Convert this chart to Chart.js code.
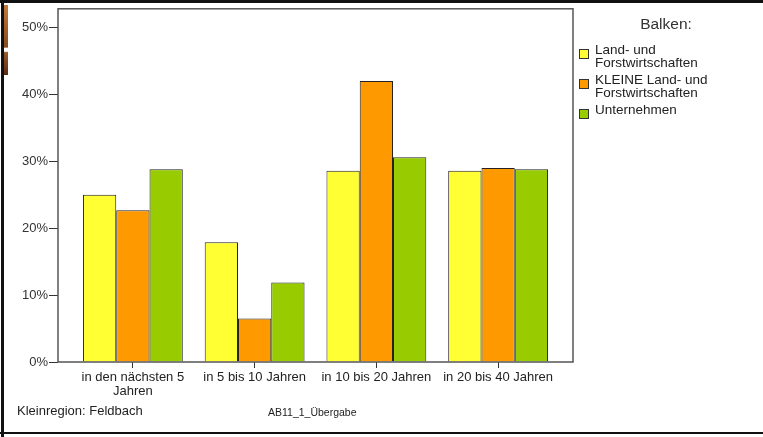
<!DOCTYPE html>
<html lang="de">
<head>
  <meta charset="UTF-8">
  <title>Balken – Kleinregion Feldbach</title>
  <script src="https://cdn.jsdelivr.net/npm/chart.js"></script>
  <style>
    html, body { margin: 0; padding: 0; background: #fff; }
    .wrap { position: relative; width: 763px; height: 437px; }
    .strip { position: absolute; left: 4px; top: 5px; width: 4px; height: 70px;
             background: linear-gradient(#c07a3a, #8a4a1c 60%, #fff 62%, #fff 66%, #9a5a2a 68%, #5a2a10); }
  </style>
</head>
<body>
<div class="wrap">
  <canvas id="chart" width="763" height="437"></canvas>
  <div class="strip"></div>
</div>

<script>
// categories (x axis), two-line labels as in the original
const categories = [
  ["in den nächsten 5", "Jahren"],
  ["in 5 bis 10 Jahren"],
  ["in 10 bis 20 Jahren"],
  ["in 20 bis 40 Jahren"]
];
const seriesNames = [
  ["Land- und", "Forstwirtschaften"],
  ["KLEINE Land- und", "Forstwirtschaften"],
  ["Unternehmen"]
];
const landForst = [25.0, 17.9, 28.6, 28.6];
const kleineLandForst = [22.7, 6.5, 42.0, 29.0];
const unternehmen = [28.8, 11.9, 30.6, 28.8];
const yTicks = [0, 10, 20, 30, 40, 50];
const colors = ["#ffff33", "#ff9900", "#99cc00"];

const legendTitle = "Balken:";
const footLeft = "Kleinregion: Feldbach";
const footMid = "AB11_1_Übergabe";

const series = [landForst, kleineLandForst, unternehmen];
const FONT = "Arial, 'Liberation Sans', sans-serif";

// frame, legend, footer and outer border
const decor = {
  id: 'decor',
  afterDraw(chart) {
    const ctx = chart.ctx;
    const a = chart.chartArea;
    ctx.save();
    // plot frame
    ctx.strokeStyle = "#555";
    ctx.lineWidth = 1.5;
    ctx.strokeRect(a.left, a.top, a.right - a.left, a.bottom - a.top);

    // legend
    ctx.fillStyle = "#333";
    ctx.font = "15.5px " + FONT;
    ctx.textAlign = "center";
    ctx.textBaseline = "middle";
    ctx.fillText(legendTitle, 666, 25);

    ctx.font = "13.5px " + FONT;
    ctx.textAlign = "left";
    let y = 50;
    seriesNames.forEach((lines, i) => {
      ctx.fillStyle = colors[i];
      ctx.fillRect(579, y - 1, 10, 10);
      ctx.strokeStyle = "#333";
      ctx.lineWidth = 1;
      ctx.strokeRect(579.5, y - 0.5, 9, 9);
      ctx.fillStyle = "#222";
      lines.forEach((t, j) => {
        ctx.fillText(t, 595, y + j * 13);
      });
      y += lines.length * 13 + 4;
    });

    // footer texts
    ctx.fillStyle = "#222";
    ctx.font = "13px " + FONT;
    ctx.fillText(footLeft, 17, 411);
    ctx.font = "10.5px " + FONT;
    ctx.fillText(footMid, 268, 413);

    // outer black border
    ctx.fillStyle = "#111";
    ctx.fillRect(0, 0, 763, 3);
    ctx.fillRect(1, 0, 3, 437);
    ctx.fillRect(0, 432, 763, 2);
    ctx.restore();
  }
};

new Chart(document.getElementById("chart"), {
  type: 'bar',
  data: {
    datasets: series.map((vals, i) => ({
      label: seriesNames[i].join(" "),
      data: vals.map((v, k) => ({ x: k, y: v })),
      backgroundColor: colors[i],
      borderColor: "#222",
      borderWidth: 1,
      borderSkipped: 'bottom'
    }))
  },
  options: {
    responsive: false,
    animation: false,
    layout: { padding: { top: 8, right: 190, left: 0, bottom: 0 } },
    categoryPercentage: 0.82,
    barPercentage: 1.0,
    plugins: {
      legend: { display: false },
      tooltip: { enabled: false }
    },
    scales: {
      x: {
        type: 'linear',
        offset: false,
        min: -0.615,
        max: 3.615,
        afterBuildTicks: s => { s.ticks = categories.map((c, i) => ({ value: i })); },
        afterFit: s => { s.height = 75; },
        grid: { display: true, offset: false, drawOnChartArea: false, drawTicks: true, tickLength: 6, color: "#333" },
        border: { display: false },
        ticks: {
          autoSkip: false,
          maxRotation: 0,
          padding: 2,
          color: "#222",
          font: { family: FONT, size: 13, lineHeight: 1.1 },
          callback: v => categories[v]
        }
      },
      y: {
        min: 0,
        max: 52.8,
        afterBuildTicks: s => { s.ticks = yTicks.map(v => ({ value: v })); },
        afterFit: s => { s.width = 58; },
        grid: { display: true, drawOnChartArea: false, drawTicks: true, tickLength: 9, color: "#333" },
        border: { display: false },
        ticks: {
          padding: 1,
          color: "#333",
          font: { family: FONT, size: 13 },
          callback: v => v + "%"
        }
      }
    }
  },
  plugins: [decor]
});
</script>
</body>
</html>
